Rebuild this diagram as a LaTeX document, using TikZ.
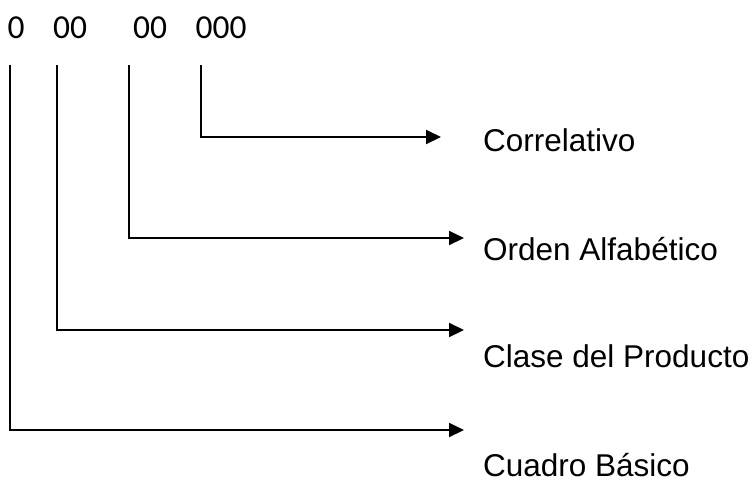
\documentclass[tikz,border=0pt]{standalone}
\usepackage{fontspec}
\setmainfont{Liberation Sans}
\newfontfamily\digitfont{Carlito}
\usetikzlibrary{arrows.meta}
\tikzset{
  conn/.style={line width=2pt, -{Triangle[length=15pt,width=14pt]}},
  digits/.style={inner sep=0pt, anchor=base west, font=\digitfont\fontsize{33.5}{40}\selectfont},
  lbl/.style={inner sep=0pt, anchor=base west, font=\fontsize{31.5}{38}\selectfont}
}
\begin{document}
\begin{tikzpicture}[x=1pt,y=-1pt]
\useasboundingbox (0,0) rectangle (753,483);
\node[digits] (d1) at (7.5,38) {0};
\node[digits] (d2) at (53,38) {00};
\node[digits] (d3) at (133,38) {00};
\node[digits] (d4) at (195.5,38) {000};
\coordinate (s1) at (10,65);
\coordinate (s2) at (57,65);
\coordinate (s3) at (129,65);
\coordinate (s4) at (201,65);
\coordinate (t4) at (441,137);
\coordinate (t3) at (464,238);
\coordinate (t2) at (464,330);
\coordinate (t1) at (464,430);
\node[lbl] (l4) at (483,151) {Correlativo};
\node[lbl] (l3) at (483,260) {Orden Alfabético};
\node[lbl] (l2) at (483,367) {Clase del Producto};
\node[lbl] (l1) at (483,476) {Cuadro Básico};
\draw[conn] (s4) |- (t4);
\draw[conn] (s3) |- (t3);
\draw[conn] (s2) |- (t2);
\draw[conn] (s1) |- (t1);
\end{tikzpicture}
\end{document}
